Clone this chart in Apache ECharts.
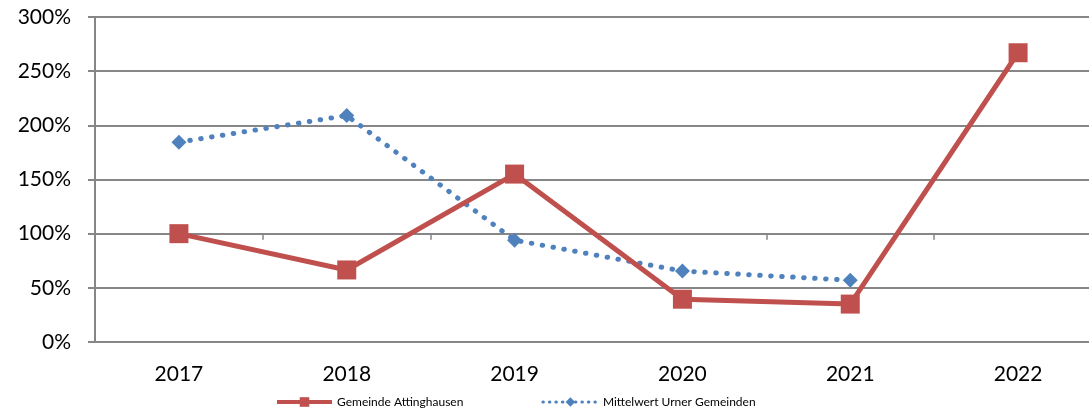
<!DOCTYPE html>
<html>
<head>
<meta charset="utf-8">
<script src="https://cdn.jsdelivr.net/npm/echarts@6/dist/echarts.min.js"></script>
<style>html,body{margin:0;padding:0;background:#fff;}#c{width:1089px;height:412px;}</style>
</head>
<body>
<div id="c"></div>
<script>
const categories = ['2017', '2018', '2019', '2020', '2021', '2022'];
const attinghausen = [100, 66.5, 155, 39.5, 35, 267];
const mittelwert = [184.5, 209, 94, 65.5, 57, null];
const yTicks = [0, 50, 100, 150, 200, 250, 300];

const chart = echarts.init(document.getElementById('c'));
const FONT = 'Lato';
const grey = '#868686';
chart.setOption({
  animation: false,
  backgroundColor: '#fff',
  textStyle: { fontFamily: FONT },
  grid: { left: 95, width: 1007, top: 17, height: 325, outerBoundsMode: 'none', containLabel: false },
  legend: {
    left: 270, top: 391,
    itemWidth: 55, itemHeight: 12, itemGap: 78,
    textStyle: { fontSize: 12, color: '#000', fontFamily: FONT },
    data: [
      { name: 'Gemeinde Attinghausen', lineStyle: { width: 4 } },
      { name: 'Mittelwert Urner Gemeinden', lineStyle: { width: 3, type: [0.5, 6], cap: 'round' } }
    ]
  },
  xAxis: [{
    type: 'category', data: categories, boundaryGap: true,
    axisLine: { show: false }, axisTick: { show: false },
    axisLabel: { fontSize: 21, color: '#000', margin: 22, fontFamily: FONT }
  }, {
    type: 'category', data: categories, boundaryGap: true, position: 'bottom',
    offset: -325 / 3,
    axisLine: { show: false },
    axisTick: { show: true, length: 6, lineStyle: { color: grey, width: 1.5 } },
    axisLabel: { show: false }
  }],
  yAxis: {
    type: 'value', min: 0, max: 300, interval: 50,
    axisLine: { show: true, lineStyle: { color: grey, width: 2 } },
    axisTick: { show: true, length: 7, lineStyle: { color: grey, width: 2 } },
    splitLine: { lineStyle: { color: grey, width: 2 } },
    axisLabel: { fontSize: 21, color: '#000', margin: 24, fontFamily: FONT,
      formatter: v => yTicks.includes(v) ? v + '%' : '' }
  },
  series: [{
    name: 'Mittelwert Urner Gemeinden', type: 'line', data: mittelwert,
    symbol: 'diamond', symbolSize: 15,
    itemStyle: { color: '#4F81BD' },
    lineStyle: { color: '#4F81BD', width: 5, type: [0.5, 10.5], cap: 'round' },
    z: 2
  }, {
    name: 'Gemeinde Attinghausen', type: 'line', data: attinghausen,
    symbol: 'rect', symbolSize: 19,
    itemStyle: { color: '#C0504D' },
    lineStyle: { color: '#C0504D', width: 5 },
    z: 3
  }]
});
</script>
</body>
</html>
